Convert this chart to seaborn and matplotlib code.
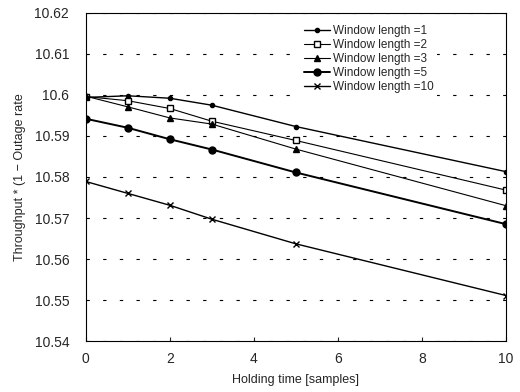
import matplotlib
matplotlib.use("Agg")
import matplotlib.pyplot as plt
import seaborn as sns
import pandas as pd

holding_time = [0, 1, 2, 3, 5, 10]
w1 = [10.5994, 10.5998, 10.5992, 10.5975, 10.5923, 10.5813]
w2 = [10.5996, 10.5986, 10.5967, 10.5936, 10.5889, 10.5768]
w3 = [10.5997, 10.5971, 10.5944, 10.5929, 10.5868, 10.5730]
w5 = [10.5942, 10.5920, 10.5892, 10.5867, 10.5811, 10.5685]
w10 = [10.5789, 10.5760, 10.5731, 10.5697, 10.5637, 10.5511]
labels = ["Window length =1", "Window length =2", "Window length =3",
          "Window length =5", "Window length =10"]
series = [w1, w2, w3, w5, w10]

rows = []
for lab, vals in zip(labels, series):
    for x, y in zip(holding_time, vals):
        rows.append({"x": x, "y": y, "series": lab})
df = pd.DataFrame(rows)

sns.set_style("ticks")
plt.rcParams['font.family'] = ['Liberation Sans', 'DejaVu Sans']

fig = plt.figure(figsize=(5.2, 3.92), dpi=100)
ax = fig.add_axes([0.165, 0.130, 0.808, 0.837])

markers = {labels[0]: "o", labels[1]: "s", labels[2]: "^", labels[3]: "o", labels[4]: "x"}
sizes_m = [3, 5, 4, 5, 5]
lws = [1.0, 0.8, 0.8, 1.4, 1.0]
for lab, ms, lw in zip(labels, sizes_m, lws):
    sub = df[df["series"] == lab]
    sns.lineplot(data=sub, x="x", y="y", ax=ax, color="black", marker=markers[lab],
                 markersize=ms, linewidth=lw, label=lab,
                 markerfacecolor="white" if lab == labels[1] else "black",
                 markeredgecolor="black", markeredgewidth=1.0)

ax.set_xlim(0, 10)
ax.set_ylim(10.54, 10.62)
ax.set_xticks([0, 2, 4, 6, 8, 10])
ax.set_yticks([10.54, 10.55, 10.56, 10.57, 10.58, 10.59, 10.6, 10.61, 10.62])
ax.set_yticklabels(["10.54", "10.55", "10.56", "10.57", "10.58", "10.59", "10.6", "10.61", "10.62"])
ax.yaxis.grid(True, linestyle=(0, (3, 12)), color="black", linewidth=0.8)
ax.tick_params(axis="y", labelsize=10, direction="in", length=0, pad=12)
ax.tick_params(axis="x", labelsize=10, direction="in", length=3, pad=8)
for s in ax.spines.values():
    s.set_color("black")
    s.set_linewidth(0.8)
ax.set_xlabel("Holding time [samples]", fontsize=9, labelpad=6)
ax.set_ylabel("Throughput * (1 \u2212 Outage rate", fontsize=9, labelpad=6)
leg = ax.legend(loc="upper left", bbox_to_anchor=(0.51, 0.975), frameon=True,
                facecolor="white", edgecolor="none", framealpha=1.0, fancybox=False,
                borderaxespad=0, borderpad=0.3,
                fontsize=8.5, handlelength=2.2, handletextpad=0.3, labelspacing=0.18)
fig.savefig("out.png", dpi=100)
